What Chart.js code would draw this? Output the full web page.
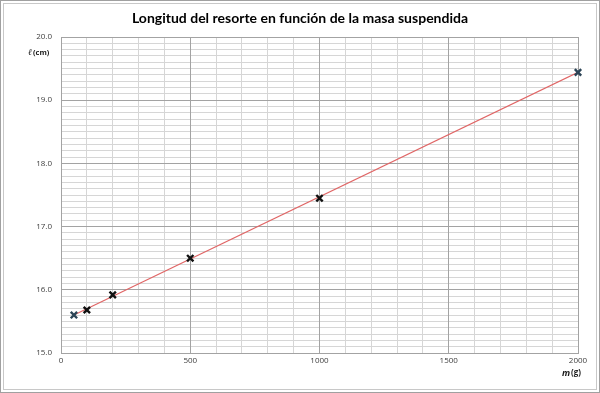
<!DOCTYPE html>
<html>
<head>
<meta charset="utf-8">
<script src="https://cdn.jsdelivr.net/npm/chart.js@4/dist/chart.umd.min.js"></script>
<style>
html,body{margin:0;padding:0;background:#fff;}
#wrap{position:relative;width:600px;height:393px;}
#frame{position:absolute;left:0;top:0;width:600px;height:393px;box-sizing:border-box;border:1px solid #a0a0a0;pointer-events:none;}
#frame2{position:absolute;left:3px;top:3px;width:594px;height:387px;box-sizing:border-box;border:1px solid #c8c8c8;pointer-events:none;}
canvas{position:absolute;left:0;top:0;}
</style>
</head>
<body>
<div id="wrap">
<canvas id="c" width="600" height="393"></canvas>
<div id="frame"></div><div id="frame2"></div>
</div>
<script>
const titleText = "Longitud del resorte en función de la masa suspendida";
const masses = [50, 100, 200, 500, 1000, 2000];          // m (g)
const lengths = [15.60, 15.68, 15.92, 16.50, 17.45, 19.44]; // ℓ (cm)
const trendX = [50, 2000];
const trendY = [15.60, 19.44];
const xMajorTicks = [0, 500, 1000, 1500, 2000];
const yMajorTicks = [15, 16, 17, 18, 19, 20];

const pointData = masses.map((m, i) => ({x: m, y: lengths[i]}));
const trendData = trendX.map((m, i) => ({x: m, y: trendY[i]}));

function isMajorX(v){ return xMajorTicks.some(t => Math.abs(t - v) < 1e-6); }
function isMajorY(v){ return yMajorTicks.some(t => Math.abs(t - v) < 1e-6); }

const MAJOR = '#a3a3a3', MINOR = '#d6d6d6';

const majorGridPlugin = {
  id: 'majorGrid',
  beforeDatasetsDraw(chart){
    const ctx = chart.ctx, a = chart.chartArea;
    const xs = chart.scales.x, ys = chart.scales.y;
    const al = p => Math.round(p - 0.5) + 0.5;
    ctx.save();
    ctx.strokeStyle = MAJOR;
    ctx.lineWidth = 1;
    ctx.beginPath();
    xMajorTicks.forEach(v => { const p = al(xs.getPixelForValue(v)); ctx.moveTo(p, a.top); ctx.lineTo(p, a.bottom); });
    yMajorTicks.forEach(v => { const p = al(ys.getPixelForValue(v)); ctx.moveTo(a.left, p); ctx.lineTo(a.right, p); });
    ctx.stroke();
    ctx.restore();
  }
};

const textPlugin = {
  id: 'texts',
  afterDraw(chart){
    const ctx = chart.ctx;
    ctx.save();
    ctx.fillStyle = '#000';
    ctx.font = 'bold 14px Lato, "Open Sans", sans-serif';
    ctx.textAlign = 'center';
    ctx.textBaseline = 'middle';
    ctx.fillText(titleText, 300, 18);
    ctx.textAlign = 'left';
    ctx.fillStyle = '#1a1a1a';
    ctx.font = 'italic bold 9px "DejaVu Serif", serif';
    ctx.fillText('ℓ', 28, 53);
    ctx.font = 'bold 7.5px "Open Sans", sans-serif';
    ctx.fillText('(cm)', 33, 53);
    ctx.font = 'italic bold 9px "Open Sans", sans-serif';
    ctx.fillText('m', 562, 373);
    ctx.font = 'bold 8px "Open Sans", sans-serif';
    ctx.fillText('(g)', 571, 373);
    ctx.restore();
  }
};

new Chart(document.getElementById('c'), {
  type: 'scatter',
  data: {
    datasets: [
      {
        label: 'Datos',
        data: pointData,
        showLine: false,
        clip: false,
        pointStyle: 'crossRot',
        pointRadius: 4.5,
        pointBorderWidth: 2.4,
        borderColor: masses.map((m, i) => (i === 0 || i === masses.length - 1) ? '#2c4456' : '#111'),
        backgroundColor: '#111',
        order: 0
      },
      {
        label: 'Tendencia',
        data: trendData,
        showLine: true,
        borderColor: '#e06666',
        borderWidth: 1.2,
        pointRadius: 0,
        order: 1
      }
    ]
  },
  options: {
    responsive: false,
    animation: false,
    devicePixelRatio: 1,
    layout: {padding: {left: 5, right: 22, top: 37, bottom: 0}},
    plugins: {legend: {display: false}, title: {display: false}, tooltip: {enabled: false}},
    scales: {
      x: {
        type: 'linear',
        min: 0, max: 2000,
        afterFit(s){ s.height = 40; },
        ticks: {
          stepSize: 100, autoSkip: false, maxRotation: 0,
          font: {size: 8, family: '"Open Sans", sans-serif'},
          color: '#404040', padding: 3,
          callback(v){ return isMajorX(v) ? String(v) : ''; }
        },
        grid: { color: MINOR, lineWidth: 1, drawTicks: false },
        border: {color: MAJOR}
      },
      y: {
        type: 'linear',
        min: 15, max: 20,
        afterFit(s){ s.width = 56; },
        ticks: {
          stepSize: 0.1, autoSkip: false,
          font: {size: 8, family: '"Open Sans", sans-serif'},
          color: '#404040', padding: 9,
          callback(v){ return isMajorY(v) ? Number(v).toFixed(1) : ''; }
        },
        grid: { color: MINOR, lineWidth: 1, drawTicks: false },
        border: {color: MAJOR}
      }
    }
  },
  plugins: [majorGridPlugin, textPlugin]
});
</script>
</body>
</html>
